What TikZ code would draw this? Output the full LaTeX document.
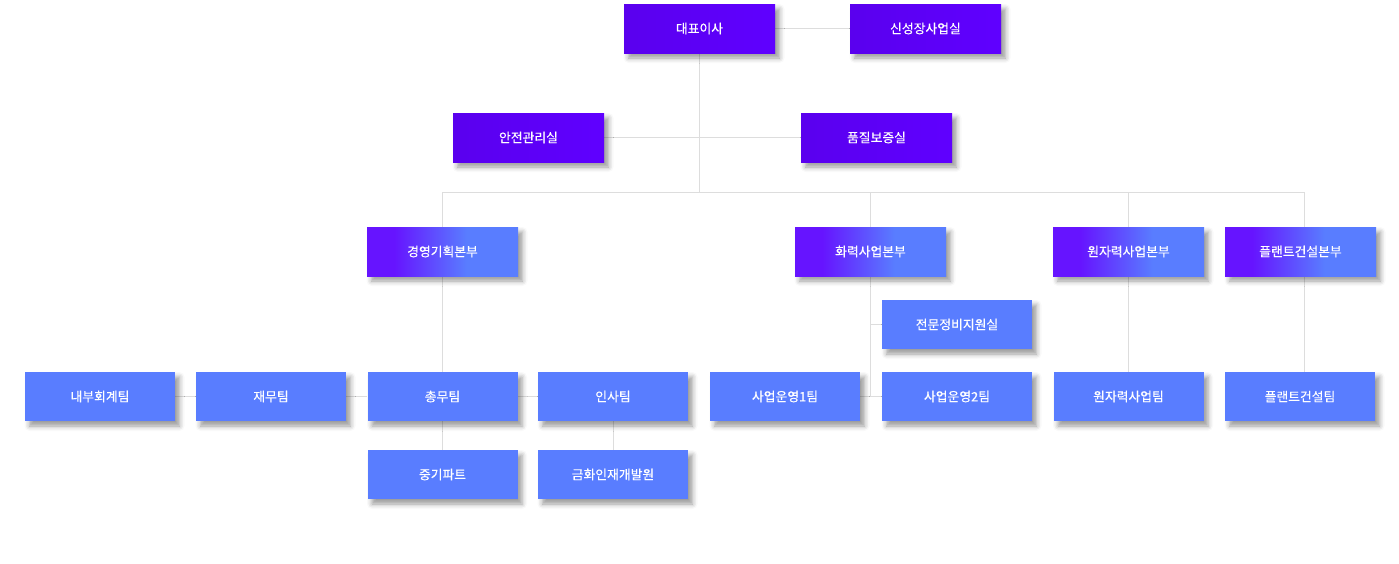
\documentclass[tikz,border=0pt]{standalone}
\usepackage{fontspec}
\setmainfont{Noto Sans CJK KR}
\newfontfamily\boxfont{Noto Sans CJK KR}[FakeBold=0.35]
\usetikzlibrary{shadows.blur,calc,backgrounds}
\definecolor{pp}{HTML}{5F00FF}
\definecolor{ppd}{HTML}{5A00EE}
\definecolor{hp}{HTML}{6614FF}
\definecolor{bl}{HTML}{597DFF}
\definecolor{ln}{HTML}{DDDDDD}
\pgfdeclarehorizontalshading{hqgrad}{100bp}{color(0bp)=(hp); color(34bp)=(hp); color(58bp)=(bl); color(100bp)=(bl)}
\pgfdeclarehorizontalshading{topgrad}{100bp}{color(0bp)=(ppd); color(25bp)=(ppd); color(75bp)=(pp); color(100bp)=(pp)}
\tikzset{
  box/.style={minimum width=150pt, minimum height=49pt, inner sep=0pt, text=white,
    font=\boxfont\fontsize{12.8pt}{14pt}\selectfont,
    blur shadow={shadow xshift=4.5pt, shadow yshift=-5pt, shadow blur radius=5pt, shadow opacity=40}},
  topbox/.style={box, minimum width=151pt, shading=topgrad},
  hqbox/.style={box, minimum width=151pt, shading=hqgrad},
  teambox/.style={box, fill=bl},
  conn/.style={draw=ln, line width=1pt}
}
\begin{document}
\begin{tikzpicture}[x=1pt,y=-1pt]
\useasboundingbox (0,0) rectangle (1399,563);
% nodes
\node[topbox] (ceo) at (699.5,28.5) {대표이사};
\node[topbox] (newb) at (925.5,28.5) {신성장사업실};
\node[topbox] (safe) at (528.5,137.5) {안전관리실};
\node[topbox] (qual) at (876.5,137.5) {품질보증실};
\node[hqbox] (hq1) at (442.5,251.5) {경영기획본부};
\node[hqbox] (hq2) at (870.5,251.5) {화력사업본부};
\node[hqbox] (hq3) at (1128.5,251.5) {원자력사업본부};
\node[hqbox] (hq4) at (1300.5,251.5) {플랜트건설본부};
\node[teambox] (sup) at (957,324.5) {전문정비지원실};
\node[teambox] (t1) at (100,396.5) {내부회계팀};
\node[teambox] (t2) at (271,396.5) {재무팀};
\node[teambox] (t3) at (442.5,396.5) {총무팀};
\node[teambox] (t4) at (613,396.5) {인사팀};
\node[teambox] (t5) at (785,396.5) {사업운영1팀};
\node[teambox] (t6) at (957,396.5) {사업운영2팀};
\node[teambox] (t7) at (1128.5,396.5) {원자력사업팀};
\node[teambox] (t8) at (1300,396.5) {플랜트건설팀};
\node[teambox] (t9) at (442.5,474.5) {중기파트};
\node[teambox] (t10) at (613,474.5) {금화인재개발원};
\coordinate (bus) at (699.5,192);
\coordinate (busL) at (442.5,192);
\coordinate (busR) at (1304,192);
\coordinate (j2) at (870.5,396.5);
% connectors (behind)
\begin{pgfonlayer}{background}
\path[conn] (ceo.east) -- (newb.west);
\path[conn] (safe.east) -- (qual.west);
\path[conn] (ceo.south) -- (bus);
\path[conn] (busL) -- (busR);
\path[conn] (busL) -- (hq1.north);
\path[conn] (hq2.north |- bus) -- (hq2.north);
\path[conn] (hq3.north |- bus) -- (hq3.north);
\path[conn] (busR) -- ([xshift=3.5pt]hq4.north);
\path[conn] (hq1.south) -- (t3.north);
\path[conn] (t1.east) -- (t2.west);
\path[conn] (t2.east) -- (t3.west);
\path[conn] (t3.east) -- (t4.west);
\path[conn] (t3.south) -- (t9.north);
\path[conn] (t4.south) -- (t10.north);
\path[conn] (hq2.south) -- (j2);
\path[conn] (sup.west -| j2) -- (sup.west);
\path[conn] (t5.east) -- (t6.west);
\path[conn] (hq3.south) -- (t7.north);
\path[conn] ([xshift=3.5pt]hq4.south) -- ([xshift=3.5pt]hq4.south |- t8.north);
\end{pgfonlayer}
\end{tikzpicture}
\end{document}
